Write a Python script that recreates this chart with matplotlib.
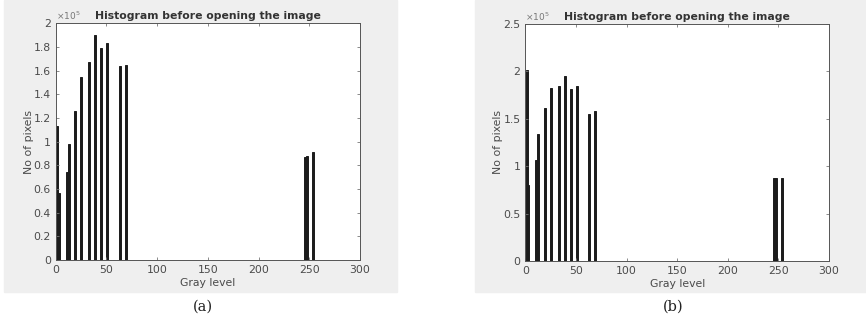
import matplotlib.pyplot as plt
from matplotlib.patches import Rectangle
from matplotlib.ticker import FuncFormatter

# gray levels and pixel counts
levels_a = [1, 3, 11, 13, 19, 25, 33, 39, 45, 51, 63, 69, 246, 248, 254]
counts_a = [113000, 57000, 74000, 98000, 126000, 155000, 167000, 190000,
            179000, 183000, 164000, 165000, 87000, 88000, 91000]

levels_b = [1.5, 3, 11, 13, 19, 25, 33, 39, 45, 51, 63, 69, 246, 248, 254]
counts_b = [201000, 80000, 106000, 134000, 161000, 182000, 185000, 195000,
            181000, 185000, 155000, 158000, 88000, 88000, 88000]

yticks_a = [0, 0.2, 0.4, 0.6, 0.8, 1, 1.2, 1.4, 1.6, 1.8, 2]
yticks_b = [0, 0.5, 1, 1.5, 2, 2.5]
xticks = [0, 50, 100, 150, 200, 250, 300]

txt = '#4a4a4a'
fig = plt.figure(figsize=(8.66, 3.23), dpi=100)
fig.patch.set_facecolor('white')

# gray figure backgrounds (MATLAB style)
fig.patches.append(Rectangle((4 / 866, 1 - 292 / 323), 393 / 866, 292 / 323,
                             transform=fig.transFigure, color='#efefef', zorder=-1))
fig.patches.append(Rectangle((475 / 866, 1 - 292 / 323), 391 / 866, 292 / 323,
                             transform=fig.transFigure, color='#efefef', zorder=-1))

panels = [
    ([0.0643, 0.195, 0.3514, 0.733], levels_a, counts_a, yticks_a, '(a)', 203),
    ([0.6066, 0.192, 0.3507, 0.734], levels_b, counts_b, yticks_b, '(b)', 673),
]

for rect, lv, ct, yt, cap, cx in panels:
    ax = fig.add_axes(rect)
    ax.bar(lv, ct, width=2.0, color='#1c1c1c', edgecolor='#1c1c1c', linewidth=0.7)
    ax.set_xlim(0, 300)
    ax.set_ylim(0, yt[-1] * 1e5)
    ax.set_xticks(xticks)
    ax.set_yticks([v * 1e5 for v in yt])
    ax.yaxis.set_major_formatter(FuncFormatter(lambda v, p: '%g' % (v / 1e5)))
    ax.tick_params(direction='in', length=2.5, width=0.6, colors='#777777',
                   labelcolor=txt, labelsize=7.8, top=True, right=True)
    for s in ax.spines.values():
        s.set_color('#555555')
        s.set_linewidth(0.7)
    ax.set_xlabel('Gray level', fontsize=7.8, color=txt, labelpad=2)
    ax.set_ylabel('No of pixels', fontsize=7.8, color=txt, labelpad=0)
    ax.set_title('Histogram before opening the image', fontsize=7.8,
                 fontweight='bold', color='#333333', pad=3)
    ax.text(0.0, 1.005, r'$\times10^5$', transform=ax.transAxes, fontsize=6.5,
            color='#777777', va='bottom', ha='left')
    fig.text(cx / 866, 1 - 307 / 323, cap, fontsize=10.5, family='DejaVu Serif',
             ha='center', va='center', color='#222222')

plt.savefig('out.png', dpi=100)
